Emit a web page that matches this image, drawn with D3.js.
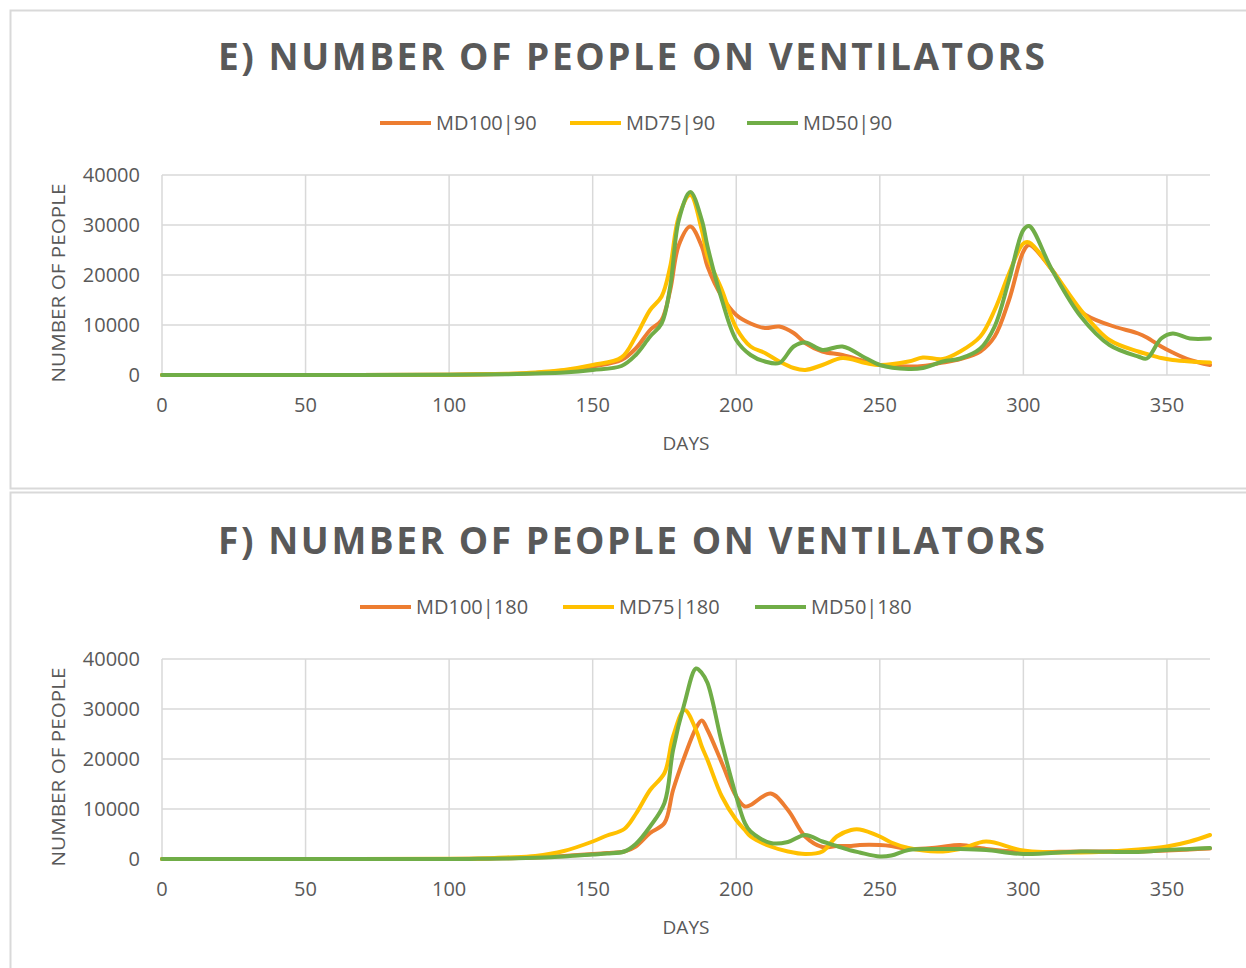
<!DOCTYPE html>
<html>
<head>
<meta charset="utf-8">
<script src="https://cdn.jsdelivr.net/npm/d3@7"></script>
<style>
  body { margin: 0; background: #fff; }
  svg { display: block; font-family: "Open Sans", sans-serif; }
</style>
</head>
<body>
<div id="chart"></div>
<script>
// ---- data ----
var seriesNamesE = ["MD100|90", "MD75|90", "MD50|90"];
var seriesNamesF = ["MD100|180", "MD75|180", "MD50|180"];
var colors = ["#ED7D31", "#FFC000", "#70AD47"];

var daysE = [0, 50, 100, 120, 130, 140, 150, 160, 165, 170, 174, 177, 180, 184, 188, 190, 195, 200, 205, 210, 215, 220, 224, 230, 237, 245, 250, 260, 265, 272, 278, 285, 290, 295, 300, 302, 310, 320, 330, 340, 343, 348, 352, 358, 365];
var md100_90 = [0, 0, 50, 200, 400, 900, 1700, 3000, 5300, 9000, 11000, 17000, 26000, 29700, 25700, 21700, 15700, 12000, 10300, 9400, 9700, 8400, 6400, 4700, 4000, 2700, 2000, 1700, 1800, 2500, 3200, 4700, 7700, 15000, 24700, 26000, 21000, 12700, 10000, 8300, 7500, 5700, 4500, 3000, 2000];
var md75_90 = [0, 0, 50, 250, 500, 1000, 2000, 3500, 7700, 13000, 15700, 21700, 31700, 36000, 29000, 23700, 17000, 9400, 5700, 4400, 2700, 1400, 1000, 2000, 3400, 2400, 2000, 2700, 3500, 3200, 4700, 7700, 13000, 20300, 26300, 26500, 21000, 13000, 7000, 4700, 4200, 3400, 3000, 2700, 2500];
var md50_90 = [0, 0, 30, 150, 300, 500, 1000, 1800, 4000, 7700, 10300, 17700, 31000, 36600, 31000, 25700, 15000, 7000, 4000, 2700, 2400, 5700, 6500, 5000, 5700, 3400, 2000, 1200, 1400, 2700, 3300, 5300, 9700, 19000, 29000, 29800, 21000, 11700, 6000, 3700, 3300, 7300, 8300, 7300, 7300];

var daysF = [0, 50, 100, 110, 120, 130, 140, 150, 155, 161, 165, 170, 175, 178, 182, 186, 188, 190, 195, 200, 203, 205, 212, 218, 224, 230, 235, 240, 243, 250, 254, 260, 270, 278, 287, 300, 320, 340, 350, 358, 365];
var md100_180 = [0, 0, 0, 50, 150, 300, 600, 1000, 1200, 1500, 2500, 5200, 7200, 13800, 20500, 26200, 27700, 25800, 19200, 12500, 10500, 10800, 13100, 9800, 4500, 2400, 2600, 2600, 2800, 2800, 2600, 2000, 2300, 2800, 2000, 1400, 1500, 1500, 1700, 1900, 2100];
var md75_180 = [0, 0, 50, 100, 300, 600, 1600, 3500, 4700, 6000, 9000, 13800, 17200, 24500, 29800, 25800, 22500, 19800, 12500, 7800, 5800, 4500, 2500, 1500, 1000, 1500, 4500, 5800, 5900, 4500, 3300, 2200, 1500, 2000, 3500, 1700, 1300, 1900, 2500, 3500, 4800];
var md50_180 = [0, 0, 0, 30, 100, 250, 500, 900, 1100, 1500, 3000, 6500, 11200, 21800, 31200, 38100, 37200, 35200, 23200, 12500, 7200, 5500, 3200, 3400, 4800, 3500, 2600, 1700, 1300, 500, 700, 1800, 2000, 2000, 1800, 1000, 1500, 1400, 1800, 2000, 2200];

var xTicks = [0, 50, 100, 150, 200, 250, 300, 350];
var yTicks = [0, 10000, 20000, 30000, 40000];

var svg = d3.select("#chart").append("svg")
    .attr("width", 1246)
    .attr("height", 968);

// panel frames
svg.append("rect").attr("x", 10.5).attr("y", 10.5).attr("width", 1240).attr("height", 478)
    .attr("fill", "none").attr("stroke", "#d9d9d9").attr("stroke-width", 2);
svg.append("rect").attr("x", 10.5).attr("y", 492.5).attr("width", 1240).attr("height", 480)
    .attr("fill", "none").attr("stroke", "#d9d9d9").attr("stroke-width", 2);

drawPanel({
    top: 175, title: "E) NUMBER OF PEOPLE ON VENTILATORS", titleY: 70,
    legendY: 123, legendX: [380, 570, 747],
    days: daysE, series: [md100_90, md75_90, md50_90], names: seriesNamesE
});
drawPanel({
    top: 659, title: "F) NUMBER OF PEOPLE ON VENTILATORS", titleY: 554,
    legendY: 607, legendX: [360, 563, 755],
    days: daysF, series: [md100_180, md75_180, md50_180], names: seriesNamesF
});

function drawPanel(o) {
    var left = 162, right = 1210, h = 200;
    var x = d3.scaleLinear().domain([0, 365]).range([left, right]);
    var y = d3.scaleLinear().domain([0, 40000]).range([o.top + h, o.top]);

    var g = svg.append("g");

    // title
    g.append("text")
        .attr("x", 218).attr("y", o.titleY)
        .attr("textLength", 827).attr("lengthAdjust", "spacing")
        .style("font-size", "37px").style("font-weight", "bold")
        .style("fill", "#595959")
        .text(o.title);

    // legend
    o.names.forEach(function (n, i) {
        g.append("line")
            .attr("x1", o.legendX[i]).attr("x2", o.legendX[i] + 51)
            .attr("y1", o.legendY).attr("y2", o.legendY)
            .attr("stroke", colors[i]).attr("stroke-width", 4);
        g.append("text")
            .attr("x", o.legendX[i] + 56).attr("y", o.legendY + 7)
            .style("font-size", "20px").style("fill", "#595959")
            .text(n);
    });

    // grid
    g.selectAll(".hg").data(yTicks).enter().append("line")
        .attr("x1", left).attr("x2", right)
        .attr("y1", function (d) { return y(d); })
        .attr("y2", function (d) { return y(d); })
        .attr("stroke", "#d9d9d9").attr("stroke-width", 1.5);
    g.selectAll(".vg").data(xTicks).enter().append("line")
        .attr("y1", o.top).attr("y2", o.top + h)
        .attr("x1", function (d) { return x(d); })
        .attr("x2", function (d) { return x(d); })
        .attr("stroke", "#d9d9d9").attr("stroke-width", 1.5);

    // tick labels
    g.selectAll(".yl").data(yTicks).enter().append("text")
        .attr("x", 140).attr("y", function (d) { return y(d) + 7; })
        .attr("text-anchor", "end")
        .style("font-size", "20px").style("fill", "#595959")
        .text(function (d) { return d; });
    g.selectAll(".xl").data(xTicks).enter().append("text")
        .attr("x", function (d) { return x(d); }).attr("y", o.top + h + 37)
        .attr("text-anchor", "middle")
        .style("font-size", "20px").style("fill", "#595959")
        .text(function (d) { return d; });

    // axis titles
    g.append("text")
        .attr("x", 686).attr("y", o.top + h + 75)
        .attr("text-anchor", "middle")
        .style("font-size", "19px").style("fill", "#595959")
        .text("DAYS");
    g.append("text")
        .attr("transform", "translate(65," + (o.top + h / 2 + 8) + ") rotate(-90)")
        .attr("text-anchor", "middle")
        .attr("textLength", 199).attr("lengthAdjust", "spacingAndGlyphs")
        .style("font-size", "19px").style("fill", "#595959")
        .text("NUMBER OF PEOPLE");

    // lines
    var line = d3.line()
        .x(function (d) { return x(d[0]); })
        .y(function (d) { return y(d[1]); })
        .curve(d3.curveCatmullRom.alpha(0.5));

    o.series.forEach(function (s, i) {
        var pts = o.days.map(function (d, j) { return [d, s[j]]; });
        g.append("path")
            .attr("d", line(pts))
            .attr("fill", "none")
            .attr("stroke", colors[i])
            .attr("stroke-width", 4)
            .attr("stroke-linejoin", "round")
            .attr("stroke-linecap", "round");
    });
}
</script>
</body>
</html>
